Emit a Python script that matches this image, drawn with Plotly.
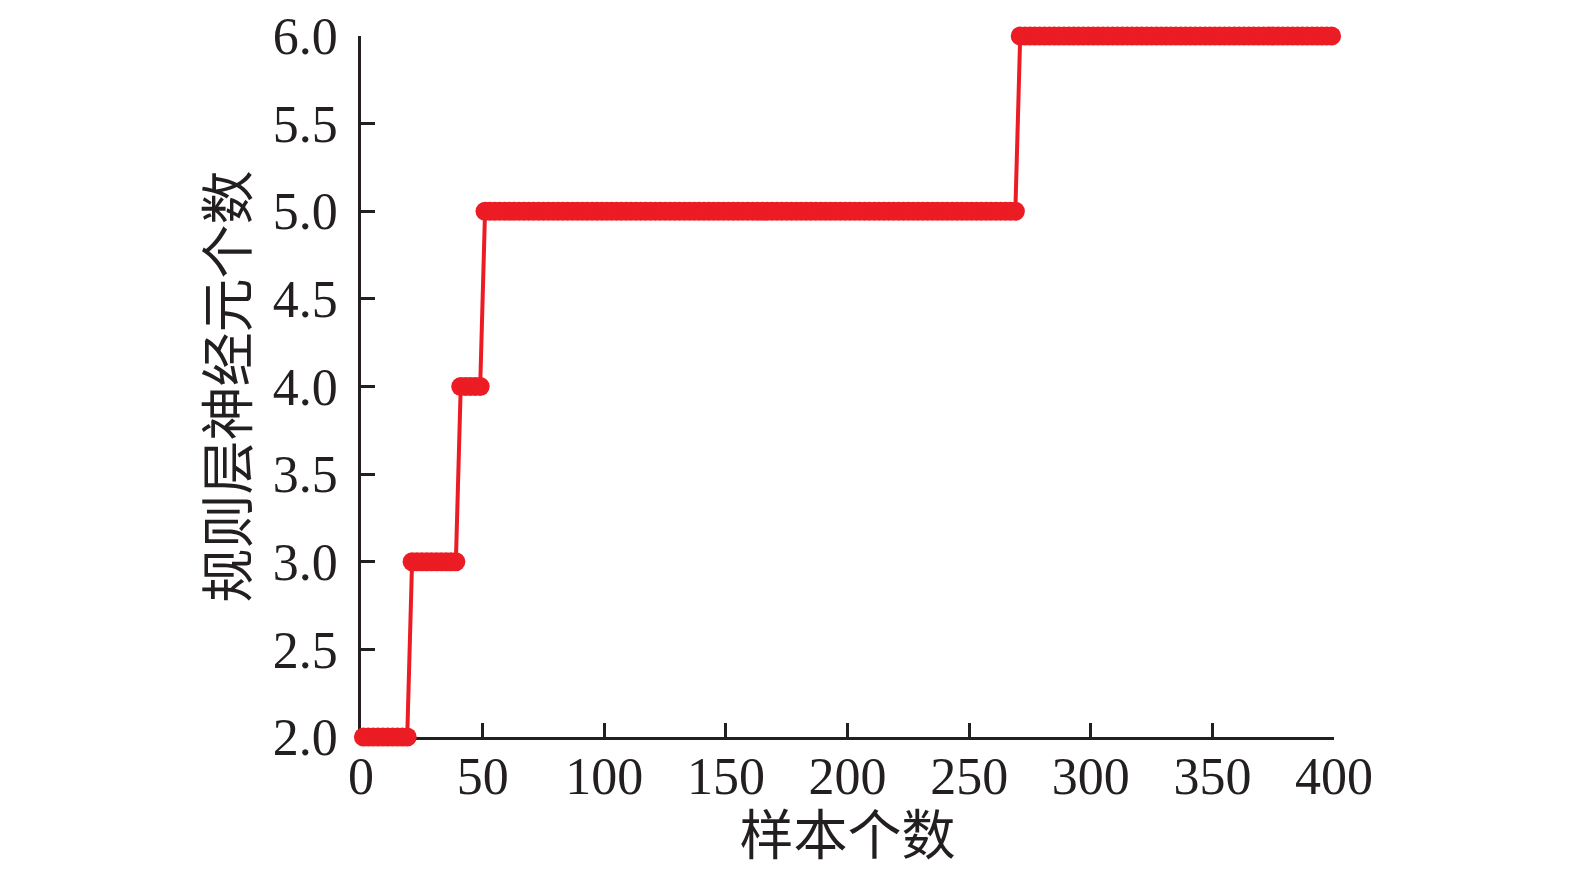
import plotly.graph_objects as go

# 各阶段的规则层神经元个数及其样本区间
neuron_levels = [2, 3, 4, 5, 6]
sample_start = [1, 21, 41, 51, 271]
sample_end = [19, 39, 49, 269, 401]
sample_step = 2

x_ticks = [0, 50, 100, 150, 200, 250, 300, 350, 400]
y_ticks = [2.0, 2.5, 3.0, 3.5, 4.0, 4.5, 5.0, 5.5, 6.0]

x_title = "样本个数"
y_title = "规则层神经元个数"

samples = []
neurons = []
for level, start, end in zip(neuron_levels, sample_start, sample_end):
    xs = list(range(start, end + 1, sample_step))
    samples += xs
    neurons += [level] * len(xs)

farge = "#ec1c24"
axis_color = "#231f20"
font_family = "Liberation Serif, 'Noto Sans CJK SC', serif"

fig = go.Figure()
fig.add_trace(
    go.Scatter(
        x=samples,
        y=neurons,
        mode="lines+markers",
        line=dict(color=farge, width=4),
        marker=dict(color=farge, size=19, line=dict(width=0)),
        cliponaxis=False,
        showlegend=False,
    )
)

axis_common = dict(
    showline=True,
    linecolor=axis_color,
    linewidth=2.5,
    ticks="inside",
    ticklen=14,
    tickwidth=2.5,
    tickcolor=axis_color,
    showgrid=False,
    zeroline=False,
    automargin=False,
    layer="below traces",
    tickfont=dict(family=font_family, size=52, color=axis_color),
)

fig.update_xaxes(
    range=[0, 400],
    tickvals=x_ticks,
    ticktext=[str(v) for v in x_ticks],
    title=dict(text=x_title, font=dict(family=font_family, size=54, color=axis_color), standoff=14),
    ticklabelstandoff=-8,
    **axis_common,
)
fig.update_yaxes(
    range=[2, 6],
    tickvals=y_ticks,
    ticktext=[f"{v:.1f}" for v in y_ticks],
    title=dict(text=y_title, font=dict(family=font_family, size=54, color=axis_color), standoff=7),
    ticklabelstandoff=10,
    **axis_common,
)

# 页面自带约 8px 的边距，这里的边距已扣除
fig.update_layout(
    width=1575,
    height=883,
    margin=dict(l=353, r=249, t=28, b=154),
    plot_bgcolor="white",
    paper_bgcolor="white",
)

fig.write_html("out.html")
